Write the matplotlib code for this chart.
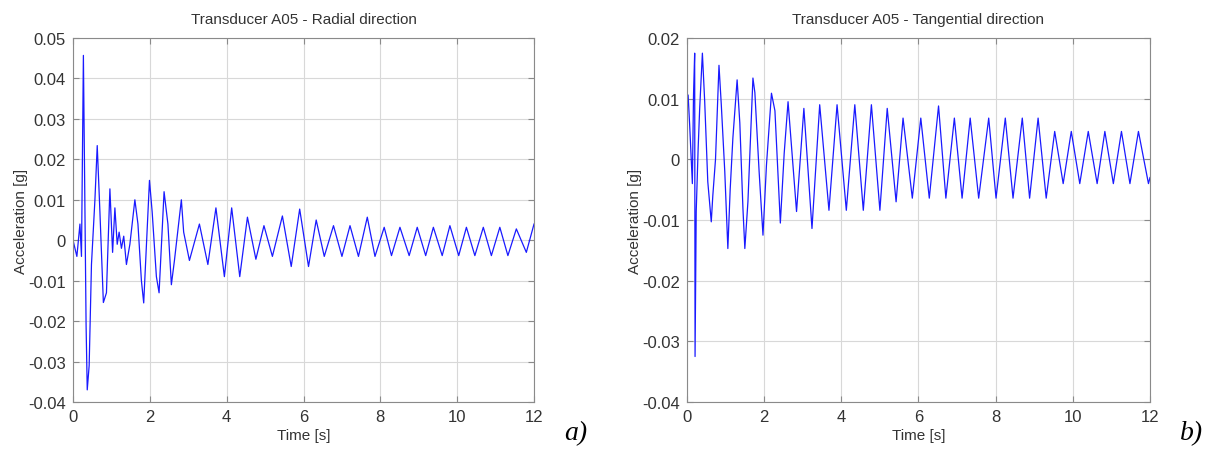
import matplotlib
matplotlib.use("Agg")
import matplotlib.pyplot as plt

# turning points (time [s], acceleration [g])
radial_t = [0.00, 0.05, 0.10, 0.18, 0.22, 0.27, 0.34, 0.37, 0.42, 0.48,
            0.57, 0.63, 0.70, 0.79, 0.87, 0.96, 1.03, 1.09, 1.15, 1.20,
            1.26, 1.32, 1.39, 1.48, 1.61, 1.69, 1.78, 1.84, 1.99, 2.06,
            2.17, 2.24, 2.37, 2.47, 2.56, 2.64, 2.82, 2.88, 3.03, 3.29,
            3.51, 3.72, 3.94, 4.13, 4.34, 4.54, 4.76, 4.97, 5.19, 5.45,
            5.68, 5.90, 6.13, 6.33, 6.54, 6.78, 7.00, 7.21, 7.43, 7.66,
            7.86, 8.10, 8.29, 8.51, 8.75, 8.96, 9.18, 9.38, 9.61, 9.81,
            10.04, 10.24, 10.46, 10.68, 10.89, 11.11, 11.32, 11.54, 11.80, 12.00]
radial_acc = [0.0, -0.002, -0.004, 0.004, -0.004, 0.0457, -0.021, -0.037, -0.031, -0.006,
              0.010, 0.0234, 0.007, -0.0154, -0.013, 0.0127, -0.003, 0.008, -0.001, 0.002,
              -0.002, 0.001, -0.006, -0.001, 0.010, 0.004, -0.010, -0.0155, 0.0148, 0.007,
              -0.009, -0.013, 0.012, 0.004, -0.011, -0.005, 0.010, 0.002, -0.005, 0.004,
              -0.006, 0.008, -0.009, 0.008, -0.009, 0.0057, -0.0047, 0.0036, -0.004, 0.006,
              -0.0065, 0.0077, -0.0065, 0.005, -0.004, 0.0036, -0.004, 0.0036, -0.004, 0.0057,
              -0.004, 0.0032, -0.0038, 0.0032, -0.0038, 0.0032, -0.0038, 0.0032, -0.0038, 0.0036,
              -0.0038, 0.0032, -0.0038, 0.0032, -0.0038, 0.0032, -0.0038, 0.0028, -0.0030, 0.0040]

tang_t = [0.00, 0.03, 0.07, 0.14, 0.17, 0.20, 0.21, 0.24, 0.29, 0.33,
          0.40, 0.46, 0.54, 0.63, 0.67, 0.74, 0.83, 0.89, 0.98, 1.06,
          1.12, 1.19, 1.30, 1.37, 1.45, 1.50, 1.58, 1.71, 1.76, 1.87,
          1.97, 2.06, 2.19, 2.28, 2.42, 2.52, 2.62, 2.84, 3.03, 3.24,
          3.44, 3.68, 3.89, 4.13, 4.35, 4.57, 4.78, 5.00, 5.19, 5.42,
          5.60, 5.84, 6.06, 6.28, 6.52, 6.71, 6.93, 7.13, 7.34, 7.56,
          7.82, 8.01, 8.25, 8.45, 8.69, 8.88, 9.10, 9.31, 9.53, 9.75,
          9.96, 10.18, 10.40, 10.63, 10.83, 11.05, 11.26, 11.48, 11.70, 11.96, 12.00]
tang_acc = [0.0106, 0.0106, 0.0057, -0.004, 0.0106, 0.0175, -0.0325, -0.0086, 0.0018, 0.0084,
            0.0175, 0.0095, -0.0037, -0.0103, -0.006, 0.0, 0.0155, 0.009, -0.002, -0.0147,
            -0.005, 0.0035, 0.0131, 0.006, -0.008, -0.0147, -0.007, 0.0134, 0.011, -0.002,
            -0.0125, -0.001, 0.0109, 0.008, -0.0105, 0.001, 0.0095, -0.0086, 0.0084, -0.0114,
            0.009, -0.0084, 0.009, -0.0084, 0.009, -0.0084, 0.009, -0.0084, 0.0084, -0.007,
            0.0068, -0.0064, 0.0068, -0.0064, 0.0088, -0.0064, 0.0068, -0.0064, 0.0068, -0.0064,
            0.0068, -0.0064, 0.0068, -0.0064, 0.0068, -0.0064, 0.0068, -0.0064, 0.0046, -0.0040,
            0.0046, -0.0040, 0.0046, -0.0040, 0.0046, -0.0040, 0.0046, -0.0040, 0.0046, -0.0040, -0.0030]

x_ticks = [0, 2, 4, 6, 8, 10, 12]
radial_yticks = [-0.04, -0.03, -0.02, -0.01, 0, 0.01, 0.02, 0.03, 0.04, 0.05]
tang_yticks = [-0.04, -0.03, -0.02, -0.01, 0, 0.01, 0.02]

plt.rcParams['font.family'] = ['Liberation Sans', 'DejaVu Sans']

fig = plt.figure(figsize=(12.09, 4.6), dpi=100)
ax1 = fig.add_axes([0.0604, 0.1239, 0.3813, 0.7913])
ax2 = fig.add_axes([0.5682, 0.1239, 0.3830, 0.7913])

panels = [
    (ax1, radial_t, radial_acc, radial_yticks, 'Transducer A05 - Radial direction', 'a)'),
    (ax2, tang_t, tang_acc, tang_yticks, 'Transducer A05 - Tangential direction', 'b)'),
]

for ax, t, acc, yt, title, tag in panels:
    ax.plot(t, acc, color='#1a1aff', lw=0.9)
    ax.set_xlim(0, 12)
    ax.set_ylim(yt[0], yt[-1])
    ax.set_xticks(x_ticks)
    ax.set_yticks(yt)
    ax.set_yticklabels(['0' if v == 0 else f'{v:g}' for v in yt])
    ax.grid(True, color='#d8d8d8', lw=0.8)
    ax.set_axisbelow(True)
    for s in ax.spines.values():
        s.set_color('#8a8a8a')
    ax.tick_params(direction='in', top=True, right=True, length=4,
                   color='#8a8a8a', labelsize=12, labelcolor='#333333', pad=5)
    ax.set_title(title, fontsize=11, color='#333333', pad=11)
    ax.set_xlabel('Time [s]', fontsize=11, color='#333333', labelpad=3)
    ax.set_ylabel('Acceleration [g]', fontsize=11, color='#333333', labelpad=0)
    # panel tag in italic serif, below the right end of the axis
    pos = ax.get_position()
    fig.text(pos.x1 + 0.025, 0.03, tag, fontsize=20, style='italic',
             family=['Liberation Serif', 'DejaVu Serif'], ha='left', va='bottom')

fig.savefig('out.png', dpi=100)
